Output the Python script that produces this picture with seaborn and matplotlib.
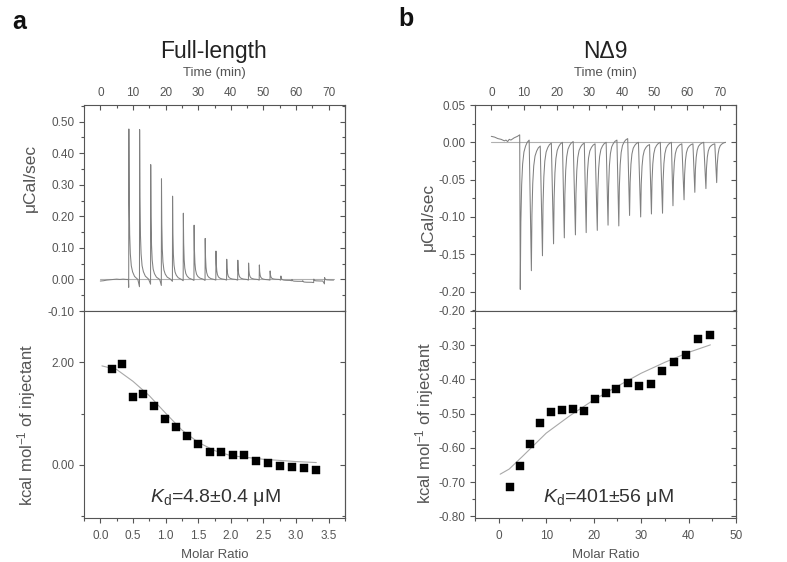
import numpy as np
import pandas as pd
import matplotlib
matplotlib.use("Agg")
import matplotlib.pyplot as plt
import seaborn as sns
from matplotlib.ticker import MultipleLocator, FormatStrFormatter

# ---- Full-length : raw thermogram ----
fl_pre_t = [0.0, 1.0, 2.0, 3.0, 4.0, 5.0, 6.0, 7.0, 8.0, 8.6]
fl_pre_y = [-0.005, -0.004, -0.002, -0.001, 0.0, 0.001, 0.0, 0.001, 0.0, 0.0]
fl_inj_t = [8.7, 12.0, 15.4, 18.7, 22.1, 25.4, 28.7, 32.1, 35.4, 38.7,
            42.1, 45.4, 48.7, 52.0, 55.3, 58.7, 62.0, 65.4, 68.7]
fl_peak = [0.477, 0.474, 0.364, 0.318, 0.264, 0.210, 0.171, 0.130, 0.090, 0.064,
           0.061, 0.052, 0.047, 0.027, 0.014, 0.006, 0.005, 0.006, 0.008]
fl_dip = [-0.025, -0.023, -0.015, -0.019, -0.006, -0.004, -0.003, -0.003, -0.002, -0.002,
          -0.002, -0.002, -0.002, -0.002, -0.002, -0.004, -0.006, -0.010, -0.014]
fl_base = [0.0, 0.001, 0.0, 0.001, 0.0, 0.0, 0.001, 0.0, 0.0, 0.0,
           0.0, 0.0, -0.001, 0.0, -0.003, -0.006, -0.009, -0.005, -0.002]
# decay profile of one peak (min after injection, fraction of peak)
fl_prof_t = [0.05, 0.15, 0.3, 0.5, 0.8, 1.2, 1.8, 2.8]
fl_prof_f = [1.0, 0.55, 0.3, 0.17, 0.09, 0.05, 0.02, 0.0]

# ---- Full-length : integrated heats ----
fl_ratio = [0.18, 0.34, 0.505, 0.66, 0.83, 0.995, 1.16, 1.33, 1.5, 1.68,
            1.85, 2.03, 2.2, 2.38, 2.57, 2.76, 2.94, 3.12, 3.31]
fl_heat = [1.86, 1.97, 1.32, 1.39, 1.14, 0.89, 0.74, 0.57, 0.41, 0.25,
           0.25, 0.20, 0.20, 0.08, 0.04, -0.03, -0.05, -0.07, -0.09]
fl_fit_x = [0.025, 0.25, 0.5, 0.75, 1.0, 1.25, 1.5, 1.75, 2.0, 2.5, 3.0, 3.31]
fl_fit_y = [1.93, 1.86, 1.63, 1.35, 1.01, 0.68, 0.44, 0.28, 0.18, 0.11, 0.065, 0.046]

# ---- N-delta-9 : raw thermogram ----
nd_pre_t = [0.0, 1.0, 2.0, 3.0, 4.0, 4.5, 5.0, 5.5, 6.0, 7.0, 8.0, 8.7]
nd_pre_y = [0.008, 0.007, 0.005, 0.004, 0.002, 0.003, 0.001, 0.004, 0.003, 0.006, 0.008, 0.010]
nd_inj_t = [8.8, 12.2, 15.6, 19.0, 22.3, 25.7, 29.0, 32.4, 35.7, 39.0,
            42.3, 45.7, 49.0, 52.4, 55.6, 59.0, 62.3, 65.7, 69.0]
nd_depth = [-0.200, -0.167, -0.151, -0.136, -0.129, -0.123, -0.119, -0.118, -0.114, -0.117,
            -0.098, -0.097, -0.096, -0.095, -0.083, -0.075, -0.067, -0.060, -0.054]
nd_base = [0.003, -0.005, -0.001, 0.0, 0.001, -0.001, -0.002, 0.0, 0.003, 0.005,
           0.0, -0.003, 0.0, 0.0, -0.002, -0.002, 0.0, -0.002, 0.0]
nd_prof_t = [0.08, 0.25, 0.5, 0.8, 1.2, 1.7, 2.2, 2.8]
nd_prof_f = [1.0, 0.55, 0.3, 0.16, 0.08, 0.04, 0.015, 0.0]

# ---- N-delta-9 : integrated heats ----
nd_ratio = [2.3, 4.5, 6.6, 8.8, 11.1, 13.3, 15.6, 17.9, 20.2, 22.5,
            24.8, 27.2, 29.6, 32.0, 34.4, 36.9, 39.4, 41.9, 44.5]
nd_heat = [-0.715, -0.652, -0.590, -0.526, -0.494, -0.489, -0.487, -0.491, -0.457, -0.440,
           -0.428, -0.409, -0.418, -0.412, -0.376, -0.348, -0.329, -0.283, -0.270]
nd_fit_x = [0.3, 2.2, 5, 10, 15, 20, 25, 30, 35, 40, 44.6]
nd_fit_y = [-0.677, -0.662, -0.625, -0.557, -0.506, -0.46, -0.42, -0.382, -0.35, -0.321, -0.299]


def build_trace(pre_t, pre_y, inj_t, amp, base, prof_t, prof_f, dip=None):
    t = list(pre_t)
    y = list(pre_y)
    for i, t0 in enumerate(inj_t):
        if dip is not None:
            t.append(t0)
            y.append(dip[i])
        for dt, f in zip(prof_t, prof_f):
            t.append(t0 + dt)
            y.append(base[i] + f * amp[i])
    return pd.DataFrame({"t": t, "y": y})


fl_trace = build_trace(fl_pre_t, fl_pre_y, fl_inj_t, fl_peak, fl_base,
                       fl_prof_t, fl_prof_f, dip=fl_dip)
nd_trace = build_trace(nd_pre_t, nd_pre_y, nd_inj_t, nd_depth, nd_base,
                       nd_prof_t, nd_prof_f)

sns.set_style("ticks")
plt.rcParams["font.family"] = ["Liberation Sans", "DejaVu Sans"]
plt.rcParams["mathtext.fontset"] = "custom"
plt.rcParams["mathtext.rm"] = "Liberation Sans"
plt.rcParams["mathtext.it"] = "Liberation Sans:italic"

txt = "#555555"
spc = "#555555"

fig = plt.figure(figsize=(7.87, 5.62), dpi=100)
W, H = 787.0, 562.0


def axes_px(x0, y0, x1, y1):
    return fig.add_axes([x0 / W, 1 - y1 / H, (x1 - x0) / W, (y1 - y0) / H])


def style(ax, right_major, right_minor):
    for s in ax.spines.values():
        s.set_color(spc)
        s.set_linewidth(0.8)
    ax.tick_params(which="both", colors=spc, labelcolor=txt, labelsize=8.5, width=0.8)
    ax.tick_params(which="major", length=3.5)
    ax.tick_params(which="minor", length=2)
    sec = ax.secondary_yaxis("right")
    sec.spines["right"].set_color(spc)
    sec.spines["right"].set_linewidth(0.8)
    sec.yaxis.set_major_locator(MultipleLocator(right_major))
    sec.yaxis.set_minor_locator(MultipleLocator(right_minor))
    sec.tick_params(which="both", direction="in", colors=spc, labelright=False, width=0.8)
    sec.tick_params(which="major", length=3.5)
    sec.tick_params(which="minor", length=2)


panels = [
    dict(x0=84, trace=fl_trace, ylim_t=(-0.1, 0.553), ymaj_t=0.1, ymin_t=0.05,
         rx=fl_ratio, ry=fl_heat, fx=fl_fit_x, fy=fl_fit_y,
         xlim_b=(-0.25, 3.75), xmaj_b=0.5, xmin_b=0.25, xfmt_b="%.1f",
         ylim_b=(-1.035, 3.0), ymaj_b=2.0, ymin_b=1.0,
         title="Full-length", letter="a", lx=12, ly=22,
         kd=r"$K_{\mathrm{d}}$=4.8$\pm$0.4 μM", kdx=0.502,
         lab_x=-0.176, lab_yt=0.646, lab_yb=0.45),
    dict(x0=475, trace=nd_trace, ylim_t=(-0.226, 0.05), ymaj_t=0.05, ymin_t=0.025,
         rx=nd_ratio, ry=nd_heat, fx=nd_fit_x, fy=nd_fit_y,
         xlim_b=(-5, 50), xmaj_b=10, xmin_b=5, xfmt_b="%d",
         ylim_b=(-0.805, -0.2), ymaj_b=0.1, ymin_b=0.05,
         title="NΔ9", letter="b", lx=398, ly=19,
         kd=r"$K_{\mathrm{d}}$=401$\pm$56 μM", kdx=0.51,
         lab_x=-0.149, lab_yt=0.456, lab_yb=0.46),
]

for p in panels:
    x0, x1 = p["x0"], p["x0"] + 261
    # top: raw heat flow
    at = axes_px(x0, 105, x1, 311)
    at.plot([0, 71.6], [0, 0], color="#b0b0b0", lw=0.8)
    sns.lineplot(data=p["trace"], x="t", y="y", ax=at, sort=False, estimator=None,
                 color="#808080", lw=0.75)
    at.set_xlim(-5, 75)
    at.set_ylim(*p["ylim_t"])
    at.xaxis.tick_top()
    at.xaxis.set_label_position("top")
    at.xaxis.set_major_locator(MultipleLocator(10))
    at.xaxis.set_minor_locator(MultipleLocator(5))
    at.yaxis.set_major_locator(MultipleLocator(p["ymaj_t"]))
    at.yaxis.set_minor_locator(MultipleLocator(p["ymin_t"]))
    at.yaxis.set_major_formatter(FormatStrFormatter("%.2f"))
    at.tick_params(axis="x", which="both", direction="in", pad=4)
    at.tick_params(axis="y", which="both", direction="out")
    style(at, p["ymaj_t"], p["ymin_t"])
    at.set_xlabel("Time (min)", fontsize=9.5, color=txt, labelpad=8)
    at.set_ylabel("μCal/sec", fontsize=12.5, color=txt)
    at.yaxis.set_label_coords(p["lab_x"], p["lab_yt"])

    # bottom: integrated heats
    ab = axes_px(x0, 311, x1, 518)
    sns.lineplot(x=p["fx"], y=p["fy"], ax=ab, color="#a8a8a8", lw=0.8)
    sns.scatterplot(x=p["rx"], y=p["ry"], ax=ab, marker="s", s=26, color="black",
                    edgecolor="black", linewidth=0.3, zorder=3)
    ab.set_xlim(*p["xlim_b"])
    ab.set_ylim(*p["ylim_b"])
    ab.xaxis.set_major_locator(MultipleLocator(p["xmaj_b"]))
    ab.xaxis.set_minor_locator(MultipleLocator(p["xmin_b"]))
    ab.xaxis.set_major_formatter(FormatStrFormatter(p["xfmt_b"]))
    ab.yaxis.set_major_locator(MultipleLocator(p["ymaj_b"]))
    ab.yaxis.set_minor_locator(MultipleLocator(p["ymin_b"]))
    ab.yaxis.set_major_formatter(FormatStrFormatter("%.2f"))
    ab.tick_params(which="both", direction="out", top=False)
    style(ab, p["ymaj_b"], p["ymin_b"])
    ab.tick_params(axis="x", pad=5)
    ab.set_xlabel("Molar Ratio", fontsize=9.5, color=txt, labelpad=5)
    ab.set_ylabel(r"kcal mol$^{\mathregular{-1}}$ of injectant", fontsize=12, color=txt)
    ab.yaxis.set_label_coords(p["lab_x"], p["lab_yb"])
    ab.text(p["kdx"], 0.10, p["kd"], transform=ab.transAxes, ha="center", va="center",
            fontsize=14, color="#333333")

    fig.text((x0 + 130) / W, 1 - 58 / H, p["title"], ha="center", va="baseline",
             fontsize=16.5, color="#222222")
    fig.text(p["lx"] / W, 1 - p["ly"] / H, p["letter"], ha="left", va="center",
             fontsize=18, fontweight="bold", color="#111111")

fig.savefig("out.png", dpi=100)
